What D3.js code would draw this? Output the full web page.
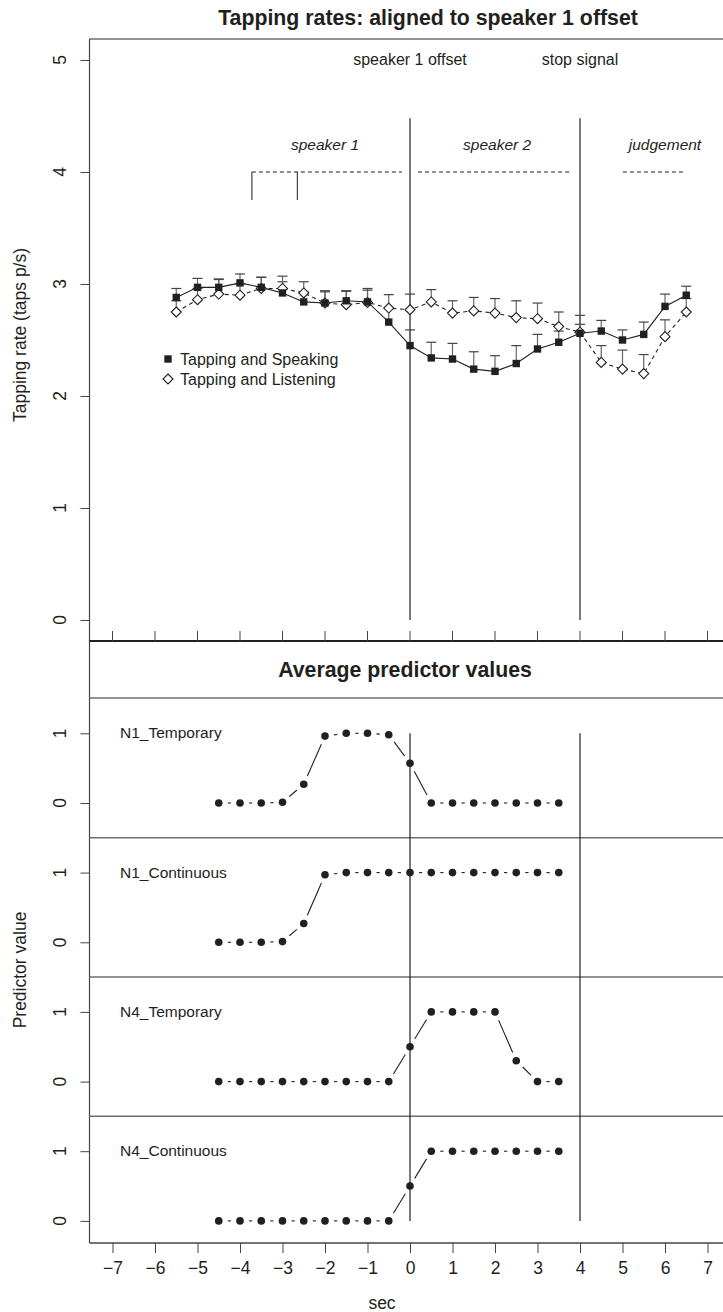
<!DOCTYPE html>
<html>
<head>
<meta charset="utf-8">
<script src="https://cdn.jsdelivr.net/npm/d3@7"></script>
<style>
  html, body { margin: 0; padding: 0; background: #fff; }
  svg text { font-family: "Liberation Sans", Arial, Helvetica, sans-serif; fill: #231f20; }
</style>
</head>
<body>
<svg id="chart" width="723" height="1312"></svg>
<script>
// ---------------- data ----------------
const xTicks = [-7, -6, -5, -4, -3, -2, -1, 0, 1, 2, 3, 4, 5, 6, 7];
const topYTicks = [0, 1, 2, 3, 4, 5];
const predYTicks = [0, 1];

const timeTop = [-5.5, -5, -4.5, -4, -3.5, -3, -2.5, -2, -1.5, -1, -0.5, 0,
                 0.5, 1, 1.5, 2, 2.5, 3, 3.5, 4, 4.5, 5, 5.5, 6, 6.5];
const speaking = [2.88, 2.97, 2.97, 3.01, 2.97, 2.92, 2.84, 2.83, 2.85, 2.84, 2.66, 2.45,
                  2.34, 2.33, 2.24, 2.22, 2.29, 2.42, 2.48, 2.56, 2.58, 2.50, 2.55, 2.80, 2.90];
const speakingSE = [0.08, 0.08, 0.075, 0.08, 0.09, 0.10, 0.09, 0.11, 0.09, 0.12, 0.12, 0.14,
                    0.14, 0.14, 0.155, 0.14, 0.16, 0.13, 0.10, 0.08, 0.095, 0.09, 0.11, 0.11, 0.08];
const listening = [2.75, 2.86, 2.91, 2.90, 2.96, 2.96, 2.92, 2.83, 2.815, 2.835, 2.785, 2.77,
                   2.84, 2.74, 2.76, 2.74, 2.70, 2.69, 2.62, 2.57, 2.30, 2.24, 2.20, 2.53, 2.75];
const listeningSE = [0.10, 0.10, 0.13, 0.10, 0.10, 0.11, 0.10, 0.10, 0.12, 0.11, 0.12, 0.14,
                     0.11, 0.11, 0.12, 0.13, 0.15, 0.14, 0.13, 0.15, 0.15, 0.17, 0.17, 0.15, 0.12];
const seriesNames = ["Tapping and Speaking", "Tapping and Listening"];

const eventTimes = [0, 4];
const eventLabels = ["speaker 1 offset", "stop signal"];
const phaseLabels = ["speaker 1", "speaker 2", "judgement"];
const phaseLabelX = [-2.0, 2.05, 6.0];
const phaseStarts = [-3.72, 0.19, 5.01];
const phaseEnds = [-0.19, 3.76, 6.42];
const bracketX = [-3.72, -2.65];

const timePred = [-4.5, -4, -3.5, -3, -2.5, -2, -1.5, -1, -0.5, 0, 0.5, 1, 1.5, 2, 2.5, 3, 3.5];
const predictorNames = ["N1_Temporary", "N1_Continuous", "N4_Temporary", "N4_Continuous"];
const n1Temporary  = [0, 0, 0, 0.01, 0.27, 0.96, 1, 1, 0.98, 0.57, 0, 0, 0, 0, 0, 0, 0];
const n1Continuous = [0, 0, 0, 0.01, 0.27, 0.97, 1, 1, 1, 1, 1, 1, 1, 1, 1, 1, 1];
const n4Temporary  = [0, 0, 0, 0, 0, 0, 0, 0, 0, 0.5, 1, 1, 1, 1, 0.3, 0, 0];
const n4Continuous = [0, 0, 0, 0, 0, 0, 0, 0, 0, 0.5, 1, 1, 1, 1, 1, 1, 1];
const predictorValues = [n1Temporary, n1Continuous, n4Temporary, n4Continuous];

// ---------------- layout ----------------
const INK = "#231f20";
const svg = d3.select("#chart");
const left = 89.5, right = 723;
const x = d3.scaleLinear().domain([-7, 7]).range([112.5, 707.5]);
const yTop = d3.scaleLinear().domain([0, 5]).range([620, 60]);
const panelZero = 803, panelStep = 139.3, unitPx = 69.7;
const yPred = predictorNames.map((_, i) =>
  d3.scaleLinear().domain([0, 1]).range([panelZero + i * panelStep, panelZero + i * panelStep - unitPx]));

const topBorder = 39, sepTop = 641, bandBottom = 698, bottomAxis = 1243;

// titles
svg.append("text").attr("x", 428).attr("y", 25).attr("text-anchor", "middle")
  .attr("font-size", 21.3).attr("font-weight", "bold").text("Tapping rates: aligned to speaker 1 offset");
svg.append("text").attr("x", 405).attr("y", 677).attr("text-anchor", "middle")
  .attr("font-size", 21.3).attr("font-weight", "bold").text("Average predictor values");

// frame lines
svg.append("line").attr("x1", left).attr("x2", right).attr("y1", topBorder).attr("y2", topBorder)
  .attr("stroke", "#6d6e71").attr("stroke-width", 1.5);
svg.append("line").attr("x1", left).attr("x2", left).attr("y1", topBorder).attr("y2", bottomAxis)
  .attr("stroke", "#444").attr("stroke-width", 1.2);
svg.append("line").attr("x1", left).attr("x2", right).attr("y1", sepTop).attr("y2", sepTop)
  .attr("stroke", INK).attr("stroke-width", 2);
svg.append("line").attr("x1", left).attr("x2", right).attr("y1", bandBottom).attr("y2", bandBottom)
  .attr("stroke", "#6d6e71").attr("stroke-width", 1.5);
for (let i = 1; i < predictorNames.length; i++) {
  const yy = yPred[i](1.5);
  svg.append("line").attr("x1", left).attr("x2", right).attr("y1", yy).attr("y2", yy)
    .attr("stroke", "#6d6e71").attr("stroke-width", 1.5);
}
svg.append("line").attr("x1", left).attr("x2", right).attr("y1", bottomAxis).attr("y2", bottomAxis)
  .attr("stroke", "#444").attr("stroke-width", 1.5);

// top-panel x ticks (pointing up from separator)
svg.append("g").selectAll("line").data(xTicks).join("line")
  .attr("x1", d => x(d)).attr("x2", d => x(d)).attr("y1", sepTop - 10).attr("y2", sepTop)
  .attr("stroke", "#444").attr("stroke-width", 1);

// bottom x axis
const gx = svg.append("g").attr("transform", `translate(0,${bottomAxis})`)
  .call(d3.axisBottom(x).tickValues(xTicks).tickSize(10).tickPadding(9)
    .tickFormat(d => (d < 0 ? "\u2212" + Math.abs(d) : String(d))));
gx.select(".domain").remove();
gx.selectAll(".tick line").attr("stroke", "#444");
gx.selectAll(".tick text").attr("font-size", 17.5).attr("fill", INK)
  .attr("font-family", "Liberation Sans, Arial, sans-serif");
svg.append("text").attr("x", 382).attr("y", 1309).attr("text-anchor", "middle")
  .attr("font-size", 17.5).text("sec");

// top y axis
const gyTop = svg.append("g").attr("transform", `translate(${left},0)`)
  .call(d3.axisLeft(yTop).tickValues(topYTicks).tickSize(9).tickFormat(d3.format("d")));
gyTop.select(".domain").remove();
gyTop.selectAll(".tick line").attr("stroke", "#444");
gyTop.selectAll(".tick text").remove();
svg.append("g").selectAll("text").data(topYTicks).join("text")
  .attr("transform", d => `translate(66,${yTop(d)}) rotate(-90)`)
  .attr("text-anchor", "middle").attr("font-size", 17.5).text(d => d);
svg.append("text").attr("transform", "translate(26,335) rotate(-90)")
  .attr("text-anchor", "middle").attr("font-size", 17.5).text("Tapping rate (taps p/s)");

// predictor y axes
yPred.forEach((ys) => {
  const g = svg.append("g").attr("transform", `translate(${left},0)`)
    .call(d3.axisLeft(ys).tickValues(predYTicks).tickSize(9).tickFormat(d3.format("d")));
  g.select(".domain").remove();
  g.selectAll(".tick line").attr("stroke", "#444");
  g.selectAll(".tick text").remove();
  svg.append("g").selectAll("text").data(predYTicks).join("text")
    .attr("transform", d => `translate(66,${ys(d)}) rotate(-90)`)
    .attr("text-anchor", "middle").attr("font-size", 17.5).text(d => d);
});
svg.append("text").attr("transform", "translate(26,970) rotate(-90)")
  .attr("text-anchor", "middle").attr("font-size", 17.5).text("Predictor value");

// ---------- top panel annotations ----------
eventTimes.forEach((t, i) => {
  svg.append("line").attr("x1", x(t)).attr("x2", x(t)).attr("y1", yTop(4.48)).attr("y2", yTop(0))
    .attr("stroke", INK).attr("stroke-width", 1.2);
  svg.append("text").attr("x", x(t)).attr("y", yTop(5) + 5).attr("text-anchor", "middle")
    .attr("font-size", 16).text(eventLabels[i]);
});
phaseLabels.forEach((lab, i) => {
  svg.append("text").attr("x", x(phaseLabelX[i])).attr("y", yTop(4.24) + 5).attr("text-anchor", "middle")
    .attr("font-size", 15.5).attr("font-style", "italic").text(lab);
  svg.append("line").attr("x1", x(phaseStarts[i])).attr("x2", x(phaseEnds[i]))
    .attr("y1", yTop(4)).attr("y2", yTop(4))
    .attr("stroke", INK).attr("stroke-width", 1).attr("stroke-dasharray", "4,3");
});
bracketX.forEach(b => {
  svg.append("line").attr("x1", x(b)).attr("x2", x(b)).attr("y1", yTop(4)).attr("y2", yTop(3.75))
    .attr("stroke", "#444").attr("stroke-width", 1.2);
});

// ---------- top panel data ----------
const topSeries = [
  { vals: speaking, se: speakingSE, dash: null },
  { vals: listening, se: listeningSE, dash: "4,3.5" }
];
// error bars
topSeries.forEach(s => {
  const g = svg.append("g");
  timeTop.forEach((t, i) => {
    const y0 = yTop(s.vals[i]), y1 = yTop(s.vals[i] + s.se[i]);
    g.append("line").attr("x1", x(t)).attr("x2", x(t)).attr("y1", y0).attr("y2", y1)
      .attr("stroke", "#666").attr("stroke-width", 1.2);
    g.append("line").attr("x1", x(t) - 5).attr("x2", x(t) + 5).attr("y1", y1).attr("y2", y1)
      .attr("stroke", "#444").attr("stroke-width", 1.2);
  });
});
// lines
const lineTop = d3.line().x((d, i) => x(timeTop[i])).y(d => yTop(d));
topSeries.forEach(s => {
  svg.append("path").attr("d", lineTop(s.vals)).attr("fill", "none")
    .attr("stroke", INK).attr("stroke-width", 1.1)
    .attr("stroke-dasharray", s.dash);
});
// points
svg.append("g").selectAll("path").data(listening).join("path")
  .attr("transform", (d, i) => `translate(${x(timeTop[i])},${yTop(d)})`)
  .attr("d", "M0,-5L5,0L0,5L-5,0Z").attr("fill", "#fff").attr("stroke", INK).attr("stroke-width", 1.1);
svg.append("g").selectAll("rect").data(speaking).join("rect")
  .attr("x", (d, i) => x(timeTop[i]) - 3.7).attr("y", d => yTop(d) - 3.7)
  .attr("width", 7.4).attr("height", 7.4).attr("fill", INK);

// legend
svg.append("rect").attr("x", 168 - 3.7).attr("y", 359 - 3.7).attr("width", 7.4).attr("height", 7.4).attr("fill", INK);
svg.append("path").attr("transform", "translate(168,379)").attr("d", "M0,-5L5,0L0,5L-5,0Z")
  .attr("fill", "#fff").attr("stroke", INK).attr("stroke-width", 1.1);
seriesNames.forEach((n, i) => {
  svg.append("text").attr("x", 180).attr("y", 359 + i * 20 + 5.5).attr("font-size", 16).text(n);
});

// ---------- predictor panels ----------
eventTimes.forEach(t => {
  svg.append("line").attr("x1", x(t)).attr("x2", x(t))
    .attr("y1", yPred[0](1)).attr("y2", yPred[yPred.length - 1](0))
    .attr("stroke", INK).attr("stroke-width", 1.2);
});
const gap = 9;
predictorValues.forEach((vals, p) => {
  const ys = yPred[p];
  svg.append("text").attr("x", 120).attr("y", ys(1) + 5).attr("font-size", 15.5).text(predictorNames[p]);
  const g = svg.append("g");
  for (let i = 0; i < vals.length - 1; i++) {
    const xa = x(timePred[i]), ya = ys(vals[i]), xb = x(timePred[i + 1]), yb = ys(vals[i + 1]);
    const len = Math.hypot(xb - xa, yb - ya);
    if (len <= 2 * gap) continue;
    const ux = (xb - xa) / len, uy = (yb - ya) / len;
    g.append("line").attr("x1", xa + ux * gap).attr("y1", ya + uy * gap)
      .attr("x2", xb - ux * gap).attr("y2", yb - uy * gap)
      .attr("stroke", INK).attr("stroke-width", 1.1);
  }
  svg.append("g").selectAll("circle").data(vals).join("circle")
    .attr("cx", (d, i) => x(timePred[i])).attr("cy", d => ys(d)).attr("r", 3.8).attr("fill", INK);
});
</script>
</body>
</html>
